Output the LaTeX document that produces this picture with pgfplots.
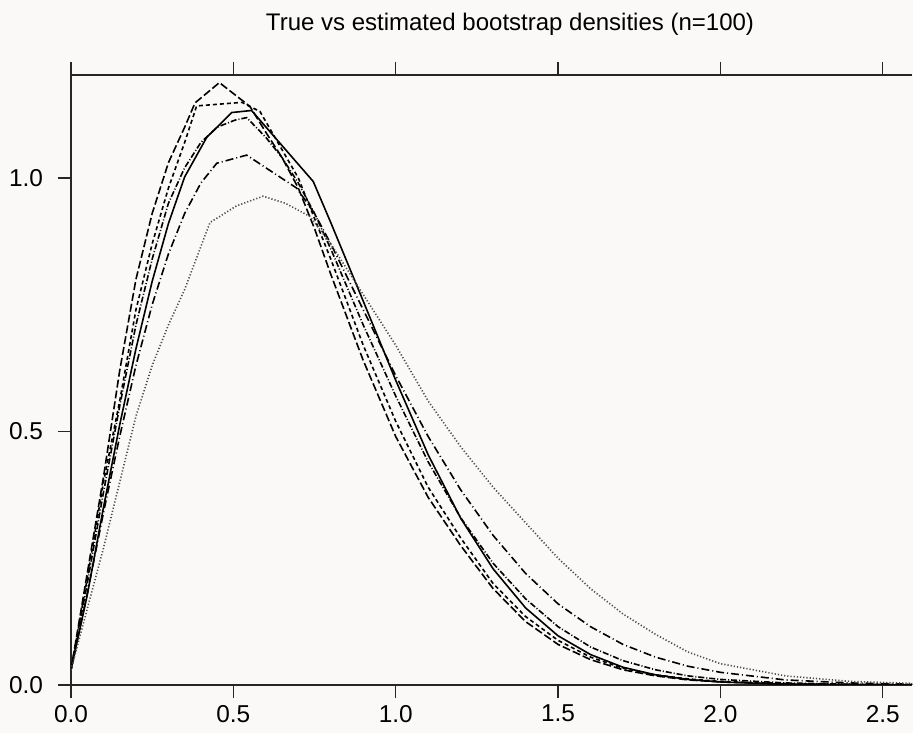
\documentclass[border=0pt]{standalone}
\usepackage{pgfplots}
\pgfplotsset{compat=1.18}
\usepackage{fontspec}
\setmainfont{Liberation Sans}
\definecolor{bg}{RGB}{250,249,247}
\begin{document}
\begin{tikzpicture}
\path[use as bounding box, fill=bg] (-35.5bp,-24bp) rectangle (421bp,342.5bp);
\begin{axis}[
  at={(0,0)}, anchor=origin,
  scale only axis, width=420.5bp, height=305bp,
  xmin=0, xmax=2.59, ymin=0, ymax=1.203,
  axis x line*=box, axis y line*=left,
  axis line style={line width=0.75bp, black!85},
  tick style={line width=0.6bp, black!85},
  tick align=outside, major tick length=6.5bp,
  xtick={0,0.5,1,1.5,2,2.5}, ytick={0,0.5,1},
  xticklabel pos=bottom,
  /pgf/number format/.cd, fixed, fixed zerofill, precision=1, assume math mode=true,
  /pgfplots/.cd,
  tick label style={font=\fontsize{12.2bp}{14bp}\selectfont},
  yticklabel style={xshift=-4bp},
  title={True vs estimated bootstrap densities (n=100)},
  title style={at={(axis description cs:0.522,1.064)}, anchor=center, font=\fontsize{12bp}{14bp}\selectfont, inner sep=0pt},
  every axis plot/.append style={line width=0.8bp, black},
  clip=true,
]
% true density (solid)
\addplot[solid] table {
x y
0 0.03
0.05 0.177
0.1 0.35
0.15 0.513
0.2 0.663
0.25 0.796
0.3 0.910
0.35 1.002
0.418 1.080
0.495 1.129
0.556 1.133
0.746 0.993
0.8 0.912
0.9 0.757
1.0 0.601
1.1 0.454
1.2 0.329
1.3 0.229
1.4 0.152
1.5 0.097
1.6 0.060
1.7 0.035
1.8 0.020
1.9 0.011
2.0 0.006
2.2 0.0014
2.4 0.0003
2.6 0.0
};
% long dash
\addplot[dash pattern=on 4bp off 1.5bp] table {
x y
0 0.03
0.05 0.22
0.1 0.41
0.15 0.62
0.2 0.80
0.25 0.93
0.3 1.03
0.35 1.10
0.382 1.148
0.457 1.188
0.551 1.141
0.6 1.09
0.65 1.04
0.7 0.98
0.75 0.90
0.8 0.81
0.9 0.64
1.0 0.49
1.1 0.37
1.2 0.275
1.3 0.19
1.4 0.125
1.5 0.08
1.6 0.05
1.7 0.03
1.8 0.018
1.9 0.010
2.0 0.006
2.2 0.002
2.4 0.001
2.6 0.0
};
% short dash
\addplot[dash pattern=on 2bp off 1.5bp] table {
x y
0 0.03
0.05 0.21
0.1 0.40
0.15 0.56
0.2 0.74
0.25 0.87
0.3 0.98
0.35 1.07
0.387 1.142
0.526 1.149
0.582 1.131
0.7 1.00
0.8 0.84
0.9 0.67
1.0 0.52
1.1 0.39
1.2 0.29
1.3 0.20
1.4 0.135
1.5 0.088
1.6 0.055
1.7 0.033
1.8 0.020
1.9 0.012
2.0 0.007
2.2 0.003
2.4 0.001
2.6 0.0
};
% dash dot
\addplot[dash pattern=on 3bp off 1bp on 0.5bp off 1bp] table {
x y
0 0.03
0.05 0.20
0.1 0.38
0.15 0.55
0.2 0.71
0.25 0.84
0.3 0.95
0.35 1.02
0.4 1.07
0.45 1.10
0.505 1.114
0.541 1.119
0.6 1.08
0.65 1.04
0.7 0.99
0.75 0.93
0.8 0.86
0.9 0.71
1.0 0.57
1.1 0.44
1.2 0.33
1.3 0.24
1.4 0.17
1.5 0.115
1.6 0.075
1.7 0.048
1.8 0.030
1.9 0.018
2.0 0.011
2.2 0.004
2.4 0.0015
2.6 0.0005
};
% long dash dot
\addplot[dash pattern=on 4bp off 1.5bp on 0.5bp off 1.5bp] table {
x y
0 0.03
0.05 0.18
0.1 0.34
0.15 0.49
0.2 0.63
0.25 0.75
0.3 0.85
0.35 0.93
0.4 0.99
0.449 1.029
0.541 1.045
0.6 1.02
0.695 0.98
0.75 0.93
0.8 0.87
0.9 0.74
1.0 0.61
1.1 0.49
1.2 0.385
1.3 0.295
1.4 0.22
1.5 0.16
1.6 0.115
1.7 0.08
1.8 0.055
1.9 0.037
2.0 0.025
2.2 0.010
2.4 0.004
2.6 0.0015
};
% dotted
\addplot[black!70, dash pattern=on 0.6bp off 1bp] table {
x y
0 0.03
0.05 0.15
0.1 0.27
0.15 0.40
0.2 0.53
0.25 0.63
0.3 0.71
0.35 0.78
0.428 0.912
0.51 0.945
0.592 0.964
0.66 0.95
0.736 0.924
0.8 0.87
0.9 0.77
1.0 0.67
1.1 0.56
1.2 0.47
1.3 0.39
1.4 0.32
1.5 0.25
1.6 0.19
1.7 0.14
1.8 0.10
1.9 0.065
2.0 0.042
2.2 0.018
2.4 0.007
2.6 0.003
};
\end{axis}
\end{tikzpicture}
\end{document}
